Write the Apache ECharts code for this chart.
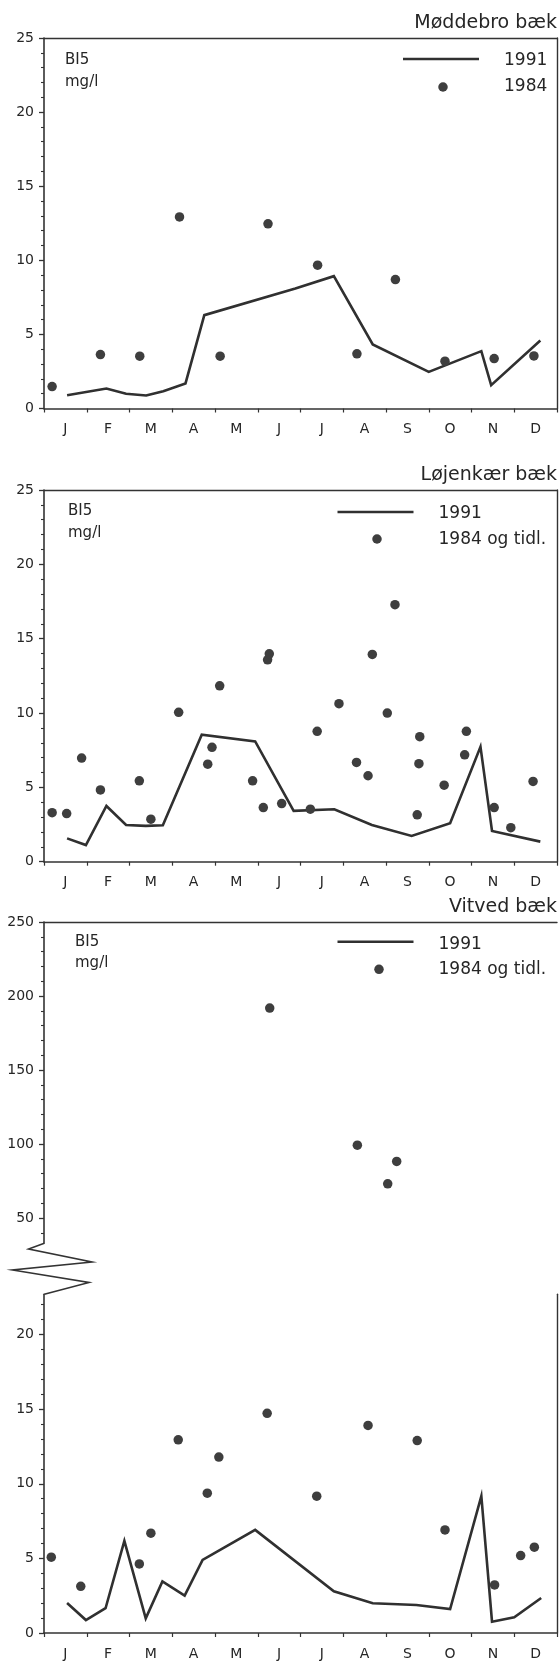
<!DOCTYPE html>
<html>
<head>
<meta charset="utf-8">
<script src="https://cdn.jsdelivr.net/npm/echarts@6/dist/echarts.min.js"></script>
<style>
html, body { margin: 0; padding: 0; background: #fff; }
#chart { width: 560px; height: 1661px; }
</style>
</head>
<body>
<div id="chart"></div>
<script>
// akser
var months = ['J', 'F', 'M', 'A', 'M', 'J', 'J', 'A', 'S', 'O', 'N', 'D'];
var ticks25 = [0, 5, 10, 15, 20, 25];
var ticksLow = [0, 5, 10, 15, 20];
var ticksHigh = [50, 100, 150, 200, 250];

// Møddebro bæk  [måned, mg/l]
var moddebro1991 = [[0.54, 0.9], [1.46, 1.35], [1.92, 1.0], [2.39, 0.88], [2.79, 1.17], [3.31, 1.69],
  [3.75, 6.3], [5.88, 8.1], [6.78, 8.93], [7.69, 4.32], [9.0, 2.47], [10.23, 3.87], [10.46, 1.57], [11.61, 4.59]];
var moddebro1984 = [[0.19, 1.48], [1.32, 3.64], [2.24, 3.53], [3.17, 12.93], [4.12, 3.53], [5.24, 12.46],
  [6.4, 9.67], [7.32, 3.69], [8.22, 8.7], [9.38, 3.19], [10.53, 3.37], [11.46, 3.55]];

// Løjenkær bæk
var lojenkaer1991 = [[0.54, 1.57], [0.98, 1.12], [1.46, 3.75], [1.92, 2.47], [2.38, 2.41], [2.78, 2.45],
  [3.69, 8.54], [4.94, 8.09], [5.84, 3.42], [6.79, 3.53], [7.67, 2.47], [8.6, 1.73], [9.5, 2.59],
  [10.21, 7.73], [10.48, 2.07], [11.61, 1.35]];
var lojenkaerOld = [[0.19, 3.3], [0.53, 3.24], [0.88, 6.97], [1.32, 4.83], [2.23, 5.44], [2.5, 2.86],
  [3.15, 10.05], [3.83, 6.56], [3.93, 7.69], [4.11, 11.83], [4.88, 5.44], [5.13, 3.64], [5.23, 13.58],
  [5.27, 13.98], [5.56, 3.91], [6.23, 3.53], [6.39, 8.77], [6.9, 10.63], [7.31, 6.68], [7.58, 5.78],
  [7.68, 13.94], [8.03, 10.0], [8.21, 17.29], [8.73, 3.15], [8.77, 6.59], [8.79, 8.41], [9.36, 5.15],
  [9.84, 7.19], [9.88, 8.77], [10.53, 3.64], [10.92, 2.29], [11.44, 5.4]];

// Vitved bæk
var vitved1991 = [[0.54, 2.01], [0.98, 0.87], [1.44, 1.66], [1.88, 6.17], [2.38, 0.98], [2.77, 3.45],
  [3.29, 2.5], [3.71, 4.9], [4.94, 6.91], [6.78, 2.8], [7.69, 1.99], [8.71, 1.88], [9.5, 1.61],
  [10.23, 9.17], [10.48, 0.76], [11.0, 1.05], [11.63, 2.35]];
var vitvedOldLow = [[0.17, 5.08], [0.86, 3.13], [2.23, 4.63], [2.5, 6.69], [3.14, 12.95], [3.82, 9.37],
  [4.09, 11.79], [5.22, 14.72], [6.38, 9.17], [7.58, 13.91], [8.73, 12.9], [9.38, 6.91], [10.54, 3.22],
  [11.15, 5.19], [11.47, 5.75]];
var vitvedOldHigh = [[5.28, 191.9], [7.33, 99.3], [8.04, 73.2], [8.25, 88.3]];

var AX = '#333333', TXT = '#262626', LINE = '#303030', DOT = '#3e3e3e';
var FONT = '"DejaVu Sans", sans-serif';

var grids = [], xAxes = [], yAxes = [], series = [], graphics = [];

function addGrid(top, height) {
  grids.push({ left: 44, top: top, width: 513, height: height });
  return grids.length - 1;
}

function steps(from, to, skip) {
  var out = [];
  for (var v = from; v <= to; v++) {
    if (v % skip) out.push(v);
  }
  return out;
}

// x akse med måneds-streger
function dataX(g, show) {
  xAxes.push({
    type: 'value', gridIndex: g, min: 0, max: 12, interval: 1, position: 'bottom', show: show,
    axisLine: { show: true, onZero: false, lineStyle: { color: AX, width: 1.6 } },
    axisTick: { show: true, length: 4, lineStyle: { color: AX, width: 1.2 } },
    axisLabel: { show: false }, splitLine: { show: false }
  });
  return xAxes.length - 1;
}
function monthX(g) {
  xAxes.push({
    type: 'category', gridIndex: g, data: months, position: 'bottom', boundaryGap: true,
    axisLine: { show: false }, axisTick: { show: false },
    axisLabel: { color: TXT, fontFamily: FONT, fontSize: 14, margin: 14 },
    splitLine: { show: false }
  });
}
function topX(g) {
  xAxes.push({
    type: 'value', gridIndex: g, min: 0, max: 12, position: 'top',
    axisLine: { show: true, onZero: false, lineStyle: { color: AX, width: 1.4 } },
    axisTick: { show: false }, axisLabel: { show: false }, splitLine: { show: false }
  });
}
// y akse: korte streger + lange streger med tal
function valueY(g, min, max, majors, minors) {
  yAxes.push({
    type: 'value', gridIndex: g, min: min, max: max, position: 'left',
    axisLine: { show: true, onZero: false, lineStyle: { color: AX, width: 1.6 } },
    axisTick: { show: true, customValues: minors, length: 3, lineStyle: { color: AX, width: 1.1 } },
    axisLabel: { show: false }, splitLine: { show: false }
  });
  var idx = yAxes.length - 1;
  yAxes.push({
    type: 'value', gridIndex: g, min: min, max: max, position: 'left',
    axisLine: { show: false },
    axisTick: { show: true, customValues: majors, length: 5, lineStyle: { color: AX, width: 1.3 } },
    axisLabel: { show: true, customValues: majors, margin: 10, color: TXT, fontFamily: FONT, fontSize: 14 },
    splitLine: { show: false }
  });
  return idx;
}
function rightY(g) {
  yAxes.push({
    type: 'value', gridIndex: g, min: 0, max: 1, position: 'right',
    axisLine: { show: true, onZero: false, lineStyle: { color: AX, width: 1.4 } },
    axisTick: { show: false }, axisLabel: { show: false }, splitLine: { show: false }
  });
}

function addLine(xi, yi, data) {
  series.push({
    type: 'line', xAxisIndex: xi, yAxisIndex: yi, data: data, symbol: 'none',
    lineStyle: { color: LINE, width: 2.6, join: 'miter' }, z: 3
  });
}
function addDots(xi, yi, data) {
  series.push({
    type: 'scatter', xAxisIndex: xi, yAxisIndex: yi, data: data, symbolSize: 9.5,
    itemStyle: { color: DOT, opacity: 1 }, z: 4
  });
}

function txt(x, y, s, size, align) {
  graphics.push({
    type: 'text', x: x, y: y,
    style: {
      text: s, font: size + 'px ' + FONT, fill: TXT,
      align: align || 'left', verticalAlign: 'middle',
      textAlign: align || 'left', textVerticalAlign: 'middle'
    }
  });
}
function labels(title, titleY, bx, by, lineX, lineY, dotX, dotY, oldName, l1Y, l2Y) {
  txt(557, titleY, title, 19, 'right');
  txt(bx, by, 'BI5', 15);
  txt(bx, by + 21.5, 'mg/l', 15);
  graphics.push({
    type: 'line', shape: { x1: lineX, y1: lineY, x2: lineX + 76, y2: lineY },
    style: { stroke: LINE, lineWidth: 2.6 }
  });
  graphics.push({ type: 'circle', shape: { cx: dotX, cy: dotY, r: 4.75 }, style: { fill: DOT } });
  txt(lineX + 101, l1Y, '1991', 17);
  txt(lineX + 101, l2Y, oldName, 17);
}

// panel 1: Møddebro bæk
var g1 = addGrid(38, 370.5);
var x1 = dataX(g1, true); monthX(g1); topX(g1);
var y1 = valueY(g1, 0, 25, ticks25, steps(0, 25, 5)); rightY(g1);
addLine(x1, y1, moddebro1991);
addDots(x1, y1, moddebro1984);
labels('Møddebro bæk', 22.7, 65, 60.4, 403, 59, 443, 87, '1984', 61, 87);

// panel 2: Løjenkær bæk
var g2 = addGrid(490, 371.7);
var x2 = dataX(g2, true); monthX(g2); topX(g2);
var y2 = valueY(g2, 0, 25, ticks25, steps(0, 25, 5)); rightY(g2);
addLine(x2, y2, lojenkaer1991);
addDots(x2, y2, lojenkaerOld);
labels('Løjenkær bæk', 475, 68, 511.4, 337.5, 512, 377, 539, '1984 og tidl.', 514, 540);

// panel 3: Vitved bæk, brudt akse
var g3a = addGrid(922, 321.3);
var x3a = dataX(g3a, false); topX(g3a);
var y3a = valueY(g3a, 33, 250, ticksHigh, steps(40, 250, 50).filter(function (v) { return v % 10 === 0; }));
addDots(x3a, y3a, vitvedOldHigh);

var g3b = addGrid(1294.3, 340.7);
var x3b = dataX(g3b, true); monthX(g3b);
var y3b = valueY(g3b, 0, 22.7, ticksLow, steps(0, 22, 5)); rightY(g3b);
addLine(x3b, y3b, vitved1991);
addDots(x3b, y3b, vitvedOldLow);
labels('Vitved bæk', 907.3, 75, 942, 337.5, 941.7, 379, 969.3, '1984 og tidl.', 945, 970);

// zigzag ved aksebruddet
graphics.push({
  type: 'polyline',
  shape: { points: [[44.3, 1243.3], [28.6, 1249], [92, 1262], [12.5, 1270], [89, 1282.5], [44.3, 1294.3]] },
  style: { stroke: AX, lineWidth: 1.6, fill: null }
});

var myChart = echarts.init(document.getElementById('chart'));
myChart.setOption({
  animation: false,
  backgroundColor: '#ffffff',
  grid: grids,
  xAxis: xAxes,
  yAxis: yAxes,
  series: series,
  graphic: { elements: graphics }
});
</script>
</body>
</html>
